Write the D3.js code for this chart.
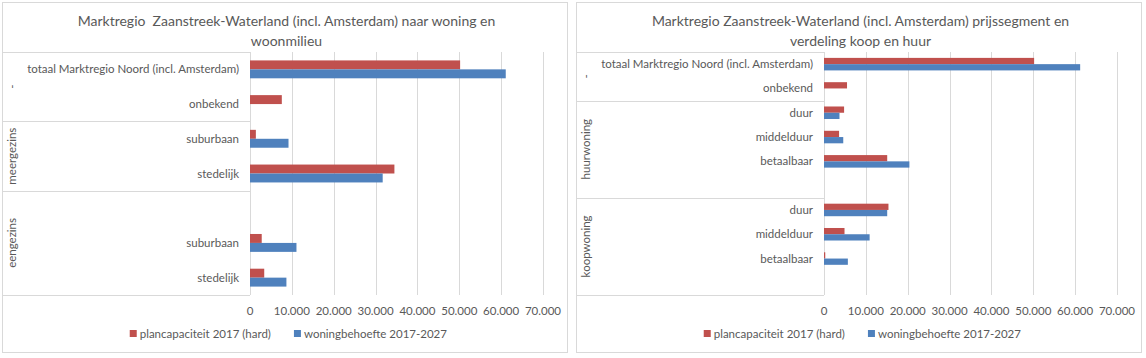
<!DOCTYPE html>
<html>
<head>
<meta charset="utf-8">
<script src="https://cdn.jsdelivr.net/npm/d3@7"></script>
<style>
  body { margin: 0; background: #fff; }
  svg { display: block; font-family: Lato, "Open Sans", sans-serif; }
</style>
</head>
<body>
<svg id="chart" width="1146" height="358"></svg>
<script>
// series names + colours
const seriesNames = ["plancapaciteit 2017 (hard)", "woningbehoefte 2017-2027"];
const seriesColors = ["#c0504d", "#4f81bd"];
const ticks = [0, 10000, 20000, 30000, 40000, 50000, 60000, 70000];

// left chart: woning en woonmilieu
const leftTitle = ["Marktregio  Zaanstreek-Waterland (incl. Amsterdam) naar woning en", "woonmilieu"];
const leftGroups = ["-", "meergezins", "eengezins"];
const leftGroupOf = ["-", "-", "meergezins", "meergezins", "eengezins", "eengezins", "eengezins"];
const leftCategories = ["totaal Marktregio Noord (incl. Amsterdam)", "onbekend", "suburbaan", "stedelijk", "", "suburbaan", "stedelijk"];
const leftPlan = [50200, 7600, 1400, 34500, 0, 2800, 3400];
const leftBehoefte = [61100, 0, 9200, 31700, 0, 11100, 8700];

// right chart: prijssegment koop / huur
const rightTitle = ["Marktregio Zaanstreek-Waterland (incl. Amsterdam) prijssegment en", "verdeling koop en huur"];
const rightGroups = ["-", "huurwoning", "koopwoning"];
const rightGroupOf = ["-", "-", "huurwoning", "huurwoning", "huurwoning", "huurwoning", "koopwoning", "koopwoning", "koopwoning", "koopwoning"];
const rightCategories = ["totaal Marktregio Noord (incl. Amsterdam)", "onbekend", "duur", "middelduur", "betaalbaar", "", "duur", "middelduur", "betaalbaar", ""];
const rightPlan = [50200, 5500, 4800, 3600, 15100, 0, 15400, 4900, 300, 0];
const rightBehoefte = [61200, 0, 3700, 4600, 20400, 0, 15100, 10900, 5700, 0];

const nl = d3.formatLocale({ decimal: ",", thousands: ".", grouping: [3], currency: ["€", ""] });
const fmt = nl.format(",.0f");

const textColor = "#595959";
const lineColor = "#d9d9d9";

const svg = d3.select("#chart");

function drawChart(x0, title, groups, groupOf, categories, plan, behoefte) {
  const boxW = 565, boxTop = 2, boxH = 350;
  const plotLeft = x0 + 248, plotTop = 52, plotBottom = 295;

  const g = svg.append("g");

  g.append("rect")
    .attr("x", x0 + 0.5).attr("y", boxTop + 0.5)
    .attr("width", boxW).attr("height", boxH)
    .attr("fill", "#fff").attr("stroke", lineColor);

  // title
  g.append("g").selectAll("text")
    .data(title)
    .enter().append("text")
    .attr("x", x0 + boxW / 2 + 2)
    .attr("y", function (d, i) { return 26 + i * 20; })
    .attr("text-anchor", "middle")
    .attr("font-size", 14)
    .attr("fill", textColor)
    .style("white-space", "pre")
    .text(function (d) { return d; });

  const x = d3.scaleLinear().domain([0, 70000]).range([plotLeft, plotLeft + 293]);
  const idx = d3.range(categories.length);
  const y = d3.scaleBand().domain(idx).range([plotTop, plotBottom]);
  const ySub = d3.scaleBand().domain([0, 1]).range([0, y.bandwidth()]).paddingOuter(0.94);

  // gridlines
  g.append("g").selectAll("line")
    .data(ticks)
    .enter().append("line")
    .attr("x1", function (d) { return Math.round(x(d)) + 0.5; })
    .attr("x2", function (d) { return Math.round(x(d)) + 0.5; })
    .attr("y1", plotTop).attr("y2", plotBottom)
    .attr("stroke", lineColor);

  // category box lines at group boundaries
  const bounds = [plotTop];
  groups.forEach(function (grp) {
    const last = groupOf.lastIndexOf(grp);
    bounds.push(y(last) + y.bandwidth());
  });
  g.append("g").selectAll("line")
    .data(bounds)
    .enter().append("line")
    .attr("x1", x0).attr("x2", plotLeft)
    .attr("y1", function (d) { return Math.round(d) + 0.5; })
    .attr("y2", function (d) { return Math.round(d) + 0.5; })
    .attr("stroke", lineColor);

  // group labels (rotated)
  g.append("g").selectAll("text")
    .data(groups)
    .enter().append("text")
    .attr("transform", function (grp) {
      const first = groupOf.indexOf(grp), last = groupOf.lastIndexOf(grp);
      const cy = (y(first) + y(last) + y.bandwidth()) / 2;
      return "translate(" + (x0 + 14) + "," + cy + ") rotate(-90)";
    })
    .attr("text-anchor", "middle")
    .attr("font-size", 11.5)
    .attr("fill", textColor)
    .text(function (d) { return d; });

  // category labels
  g.append("g").selectAll("text")
    .data(idx)
    .enter().append("text")
    .attr("x", plotLeft - 11)
    .attr("y", function (i) { return y(i) + y.bandwidth() / 2; })
    .attr("dy", "0.35em")
    .attr("text-anchor", "end")
    .attr("font-size", 11.5)
    .attr("fill", textColor)
    .text(function (i) { return categories[i]; });

  // bars
  const series = [plan, behoefte];
  series.forEach(function (vals, s) {
    g.append("g").selectAll("rect")
      .data(idx.filter(function (i) { return vals[i] > 0; }))
      .enter().append("rect")
      .attr("x", x(0))
      .attr("y", function (i) { return y(i) + ySub(s); })
      .attr("width", function (i) { return Math.max(1, x(vals[i]) - x(0)); })
      .attr("height", ySub.bandwidth())
      .attr("fill", seriesColors[s]);
  });

  // axis tick labels
  g.append("g").selectAll("text")
    .data(ticks)
    .enter().append("text")
    .attr("x", function (d) { return x(d); })
    .attr("y", 315)
    .attr("text-anchor", "middle")
    .attr("font-size", 11.5)
    .attr("fill", textColor)
    .text(function (d) { return fmt(d); });

  // legend
  const legend = g.append("g");
  const items = legend.selectAll("g")
    .data(seriesNames)
    .enter().append("g");
  items.append("rect")
    .attr("width", 7).attr("height", 7)
    .attr("y", 330)
    .attr("fill", function (d, i) { return seriesColors[i]; });
  items.append("text")
    .attr("x", 10).attr("y", 337.5)
    .attr("font-size", 11.5)
    .attr("fill", textColor)
    .text(function (d) { return d; });
  let offset = 0;
  const widths = [];
  items.each(function () { widths.push(this.getBBox().width); });
  const total = d3.sum(widths) + 23 * (widths.length - 1);
  let start = x0 + boxW / 2 + 4 - total / 2;
  items.attr("transform", function (d, i) {
    const t = "translate(" + (start + offset) + ",0)";
    offset += widths[i] + 23;
    return t;
  });
}

drawChart(2, leftTitle, leftGroups, leftGroupOf, leftCategories, leftPlan, leftBehoefte);
drawChart(576, rightTitle, rightGroups, rightGroupOf, rightCategories, rightPlan, rightBehoefte);
</script>
</body>
</html>
